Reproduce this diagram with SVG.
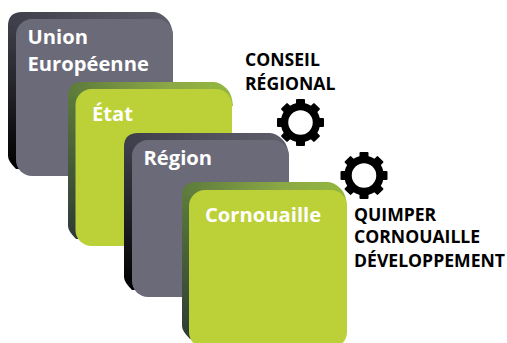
<svg xmlns="http://www.w3.org/2000/svg" width="507" height="343" viewBox="0 0 507 343">
<style>
.l{font-family:"Open Sans","Noto Sans",sans-serif;font-weight:700;font-size:20.2px;fill:#fff}
.b{font-family:"Open Sans","Noto Sans",sans-serif;font-weight:700;font-size:17.6px;fill:#000}
</style>
<defs>
<linearGradient id="gt" x1="0" x2="1" y1="0" y2="0"><stop offset="0" stop-color="#3e3e4a"/><stop offset=".5" stop-color="#50505c"/><stop offset="1" stop-color="#5e5e6a"/></linearGradient>
<linearGradient id="gl" x1="0" x2="0" y1="0" y2="1"><stop offset="0" stop-color="#3e3e4a"/><stop offset="1" stop-color="#000"/></linearGradient>
<linearGradient id="vt" x1="0" x2="1" y1="0" y2="0"><stop offset="0" stop-color="#5c7a3c"/><stop offset=".6" stop-color="#8aa845"/><stop offset="1" stop-color="#94b83e"/></linearGradient>
<linearGradient id="vl" x1="0" x2="0" y1="0" y2="1"><stop offset="0" stop-color="#5c7a3c"/><stop offset="1" stop-color="#2e3a36"/></linearGradient>
<g id="gear">
<circle r="16" fill="none" stroke="#000" stroke-width="7.500"/>
<g fill="#000">
<rect x="-4.500" y="-23.500" width="9" height="9" rx="1"/>
<rect x="-4.500" y="-23.500" width="9" height="9" rx="1" transform="rotate(45)"/>
<rect x="-4.500" y="-23.500" width="9" height="9" rx="1" transform="rotate(90)"/>
<rect x="-4.500" y="-23.500" width="9" height="9" rx="1" transform="rotate(135)"/>
<rect x="-4.500" y="-23.500" width="9" height="9" rx="1" transform="rotate(180)"/>
<rect x="-4.500" y="-23.500" width="9" height="9" rx="1" transform="rotate(225)"/>
<rect x="-4.500" y="-23.500" width="9" height="9" rx="1" transform="rotate(270)"/>
<rect x="-4.500" y="-23.500" width="9" height="9" rx="1" transform="rotate(315)"/>
</g>
</g>
<path id="sl" d="M0 14V144Q0 149 8 157H30V14Z"/>
<path id="st" d="M0 14Q0 0 14 0H146Q152 0 159 7Q164 12 165 24H8V14Z"/>
<g id="backG"><use href="#sl" fill="url(#gl)"/><use href="#st" fill="url(#gt)"/></g>
<g id="backV"><use href="#sl" fill="url(#vl)"/><use href="#st" fill="url(#vt)"/></g>
</defs>
<g id="union"><use href="#backG" x="8" y="12"/><rect x="16" y="19" width="157" height="157" rx="16" fill="#6b6a79"/><text class="l" x="27.500" y="43.500">Union</text><text class="l" x="27.500" y="70.500">Européenne</text></g>
<g id="etat"><use href="#backV" x="68" y="82"/><rect x="75.500" y="89" width="156.500" height="157" rx="16" fill="#bcd037"/><text class="l" x="92" y="120.500">État</text></g>
<g id="region"><use href="#backG" x="124" y="133"/><rect x="132" y="140" width="157" height="157" rx="16" fill="#6b6a79"/><text class="l" x="143.500" y="164.500">Région</text></g>
<g id="cornouaille"><use href="#backV" x="182" y="182"/><rect x="189" y="190" width="158" height="158" rx="16" fill="#bcd037"/><text class="l" x="205" y="221.500">Cornouaille</text></g>
<g id="conseil"><text class="b" x="245" y="65.500">CONSEIL</text><text class="b" x="245" y="89.500">RÉGIONAL</text><use href="#gear" x="300.500" y="122.500"/></g>
<g id="quimper"><use href="#gear" x="364" y="175.500"/><text class="b" x="354" y="221">QUIMPER</text><text class="b" x="354" y="243">CORNOUAILLE</text><text class="b" x="354" y="267">DÉVELOPPEMENT</text></g>
<g id="connectors"/>
</svg>
